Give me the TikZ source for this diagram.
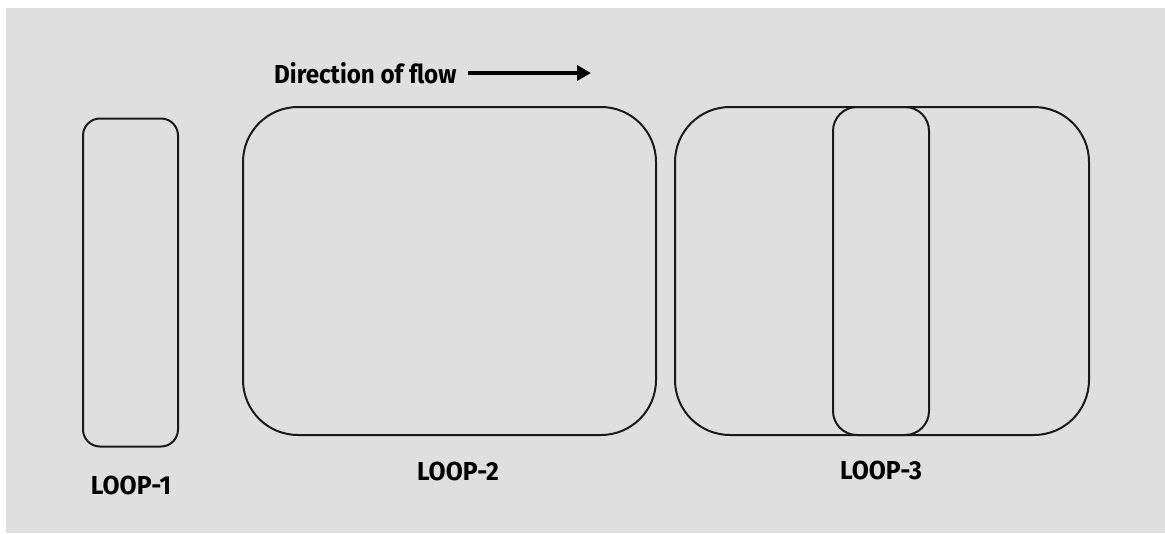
\documentclass[tikz,border=0pt]{standalone}
\usepackage{fontspec}
\setmainfont{Fira Sans}
\usepackage{tikz}
\usetikzlibrary{arrows.meta}

\definecolor{panelgray}{HTML}{DFDFDF}
\definecolor{inkline}{HTML}{1A1A1A}

\newcommand{\narrow}[2]{\scalebox{#1}[1]{#2}}

\tikzset{
  loopbox/.style={draw=inkline, line width=2pt, inner sep=0pt},
  looplabel/.style={font=\fontsize{26}{30}\selectfont\bfseries, text=black, inner sep=0pt},
  flowarrow/.style={line width=4pt, -{Triangle[length=14pt, width=15pt]}}
}

\begin{document}
\begin{tikzpicture}[x=1pt, y=-1pt]
  % page and panel
  \fill[white] (0,0) rectangle (1165,533);
  \fill[panelgray] (6,8) rectangle (1165,533);
  \useasboundingbox (0,0) rectangle (1165,533);

  % flow direction
  \node[looplabel, anchor=west] (flow) at (274,73) {\narrow{0.93}{Direction of flow}};
  \coordinate (flowend) at (591,73);
  \draw[flowarrow, shorten <=11pt] (flow.east) -- (flowend);

  % the three loops
  \node[loopbox, rounded corners=17pt, minimum width=95pt, minimum height=328pt] (loop1) at (130.5,282.5) {};
  \node[loopbox, rounded corners=55pt, minimum width=413pt, minimum height=328pt] (loop2) at (449.5,271) {};
  \node[loopbox, rounded corners=55pt, minimum width=414pt, minimum height=328pt] (loop3) at (882,271) {};
  \node[loopbox, rounded corners=24pt, minimum width=96pt, minimum height=328pt] (loop3in) at (881,271) {};

  % labels
  \node[looplabel] (lab1) at (131,485) {\narrow{0.95}{LOOP-1}};
  \node[looplabel] (lab2) at (458,471) {\narrow{0.95}{LOOP-2}};
  \node[looplabel] (lab3) at (881,470) {\narrow{0.95}{LOOP-3}};
\end{tikzpicture}
\end{document}
